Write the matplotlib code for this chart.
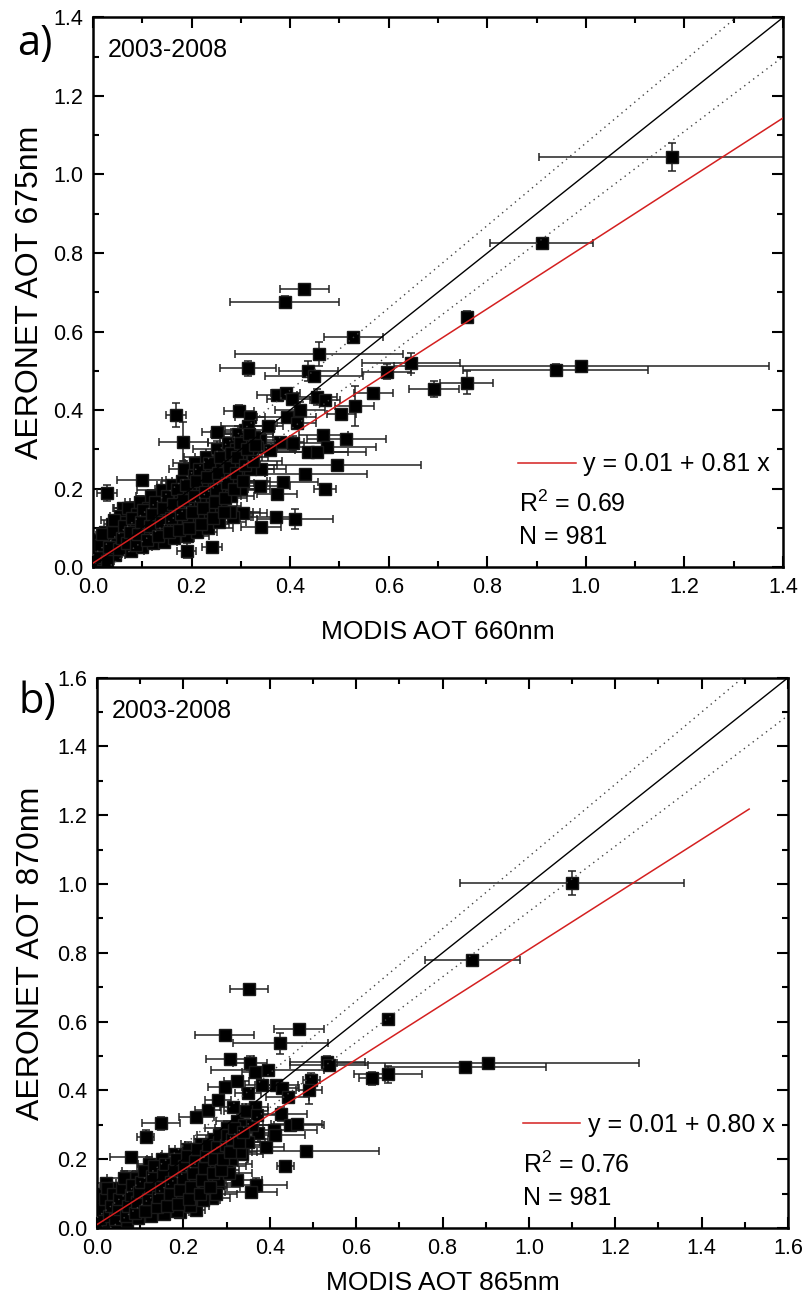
import matplotlib
matplotlib.use("Agg")
import matplotlib.pyplot as plt
from matplotlib.ticker import MultipleLocator, FormatStrFormatter

plt.rcParams['font.family'] = ['Liberation Sans', 'DejaVu Sans']
plt.rcParams['mathtext.fontset'] = 'custom'
plt.rcParams['mathtext.rm'] = 'Liberation Sans'
plt.rcParams['mathtext.it'] = 'Liberation Sans:italic'
plt.rcParams['mathtext.default'] = 'regular'

# ---------------- Panel a data (MODIS 660 vs AERONET 675) ----------------
xa = [1.175, 0.910, 0.429, 0.389, 0.528, 0.458, 0.314, 0.437, 0.448, 0.596,
      0.645, 0.758, 0.939, 0.991, 0.758, 0.692, 0.569, 0.531, 0.504, 0.514,
      0.496, 0.430, 0.386, 0.471, 0.373, 0.341, 0.339, 0.410, 0.371, 0.341,
      0.304, 0.285, 0.241, 0.190, 0.168, 0.183, 0.028, 0.099, 0.060, 0.251,
      0.296, 0.356, 0.373, 0.391, 0.404, 0.455, 0.471, 0.420, 0.393, 0.413,
      0.467, 0.474, 0.437, 0.454, 0.379, 0.406, 0.339, 0.359, 0.318, 0.308,
      0.332,
      0.005, 0.010, 0.012, 0.020, 0.022, 0.025, 0.030, 0.035, 0.038, 0.045,
      0.048, 0.050, 0.055, 0.060, 0.065, 0.068, 0.072, 0.078, 0.082, 0.085,
      0.090, 0.095, 0.100, 0.104, 0.108, 0.112, 0.118, 0.122, 0.126, 0.130,
      0.135, 0.140, 0.145, 0.148, 0.152, 0.156, 0.160, 0.165, 0.168, 0.172,
      0.176, 0.180, 0.185, 0.190, 0.193, 0.197, 0.200, 0.204, 0.208, 0.212,
      0.215, 0.218, 0.222, 0.226, 0.230, 0.234, 0.238, 0.241, 0.245, 0.249,
      0.252, 0.256, 0.260, 0.263, 0.267, 0.270, 0.274, 0.278, 0.281, 0.284,
      0.288, 0.291, 0.295, 0.300, 0.303, 0.306, 0.310, 0.314, 0.318, 0.322,
      0.326]
ya = [1.045, 0.825, 0.708, 0.676, 0.585, 0.543, 0.506, 0.500, 0.487, 0.498,
      0.519, 0.638, 0.502, 0.512, 0.470, 0.453, 0.443, 0.410, 0.390, 0.325,
      0.259, 0.236, 0.217, 0.198, 0.185, 0.249, 0.206, 0.122, 0.127, 0.103,
      0.137, 0.127, 0.052, 0.042, 0.387, 0.319, 0.188, 0.222, 0.151, 0.343,
      0.398, 0.360, 0.438, 0.444, 0.427, 0.434, 0.425, 0.400, 0.383, 0.366,
      0.336, 0.306, 0.294, 0.294, 0.319, 0.315, 0.324, 0.298, 0.383, 0.349,
      0.306,
      0.015, 0.040, 0.070, 0.020, 0.055, 0.090, 0.035, 0.075, 0.110, 0.030,
      0.060, 0.095, 0.130, 0.045, 0.080, 0.115, 0.150, 0.040, 0.070, 0.100,
      0.135, 0.165, 0.050, 0.085, 0.120, 0.150, 0.180, 0.060, 0.095, 0.130,
      0.160, 0.195, 0.065, 0.100, 0.140, 0.175, 0.210, 0.075, 0.110, 0.150,
      0.185, 0.220, 0.250, 0.080, 0.120, 0.160, 0.200, 0.235, 0.265, 0.090,
      0.130, 0.170, 0.210, 0.245, 0.280, 0.100, 0.140, 0.180, 0.220, 0.260,
      0.300, 0.115, 0.155, 0.195, 0.235, 0.275, 0.315, 0.140, 0.180, 0.220,
      0.260, 0.300, 0.340, 0.200, 0.240, 0.280, 0.320, 0.360, 0.250, 0.290,
      0.330]
xea = [0.270, 0.105, 0.050, 0.110, 0.060, 0.170, 0.057, 0.060, 0.100, 0.050,
       0.100, 0.010, 0.188, 0.380, 0.053, 0.050, 0.040, 0.040, 0.030, 0.080,
       0.170, 0.125, 0.070, 0.022, 0.040, 0.050, 0.060, 0.077, 0.050, 0.040,
       0.050, 0.040, 0.020, 0.020, 0.020, 0.050, 0.020, 0.050, 0.020, 0.030,
       0.030, 0.030, 0.040, 0.030, 0.050, 0.040, 0.030, 0.050, 0.060, 0.040,
       0.050, 0.100, 0.080, 0.100, 0.050, 0.060, 0.040, 0.050, 0.030, 0.040,
       0.030,
       0.010, 0.015, 0.020, 0.010, 0.025, 0.015, 0.020, 0.030, 0.015, 0.020,
       0.025, 0.030, 0.020, 0.015, 0.035, 0.020, 0.030, 0.025, 0.020, 0.040,
       0.025, 0.030, 0.020, 0.035, 0.025, 0.045, 0.030, 0.025, 0.040, 0.030,
       0.035, 0.050, 0.025, 0.030, 0.045, 0.035, 0.030, 0.040, 0.030, 0.050,
       0.035, 0.040, 0.030, 0.045, 0.035, 0.055, 0.040, 0.030, 0.045, 0.040,
       0.050, 0.035, 0.060, 0.040, 0.045, 0.050, 0.035, 0.060, 0.045, 0.040,
       0.050, 0.055, 0.040, 0.065, 0.045, 0.050, 0.040, 0.060, 0.045, 0.070,
       0.050, 0.040, 0.055, 0.060, 0.045, 0.050, 0.040, 0.055, 0.050, 0.045,
       0.040]
yea = [0.036, 0.012, 0.008, 0.015, 0.012, 0.030, 0.020, 0.025, 0.010, 0.020,
       0.025, 0.015, 0.015, 0.010, 0.030, 0.020, 0.010, 0.050, 0.010, 0.010,
       0.010, 0.010, 0.010, 0.010, 0.010, 0.010, 0.010, 0.026, 0.010, 0.010,
       0.010, 0.010, 0.010, 0.020, 0.030, 0.050, 0.020, 0.010, 0.010, 0.010,
       0.015, 0.010, 0.010, 0.010, 0.010, 0.020, 0.010, 0.020, 0.010, 0.010,
       0.010, 0.010, 0.010, 0.010, 0.010, 0.020, 0.010, 0.010, 0.010, 0.010,
       0.010,
       0.015, 0.010, 0.020, 0.012, 0.015, 0.010, 0.020, 0.012, 0.015, 0.010,
       0.015, 0.012, 0.020, 0.010, 0.015, 0.012, 0.010, 0.015, 0.020, 0.012,
       0.010, 0.015, 0.012, 0.010, 0.020, 0.012, 0.015, 0.010, 0.012, 0.020,
       0.010, 0.015, 0.012, 0.020, 0.010, 0.015, 0.012, 0.010, 0.020, 0.012,
       0.015, 0.010, 0.020, 0.012, 0.015, 0.010, 0.012, 0.020, 0.010, 0.015,
       0.012, 0.020, 0.010, 0.015, 0.012, 0.010, 0.020, 0.012, 0.015, 0.010,
       0.020, 0.012, 0.015, 0.010, 0.020, 0.012, 0.015, 0.010, 0.012, 0.020,
       0.015, 0.010, 0.020, 0.012, 0.015, 0.010, 0.020, 0.012, 0.015, 0.010,
       0.012]
# further points inside the dense cloud of panel a
xa2 = [0.008, 0.015, 0.018, 0.028, 0.032, 0.040, 0.042, 0.052, 0.058, 0.062,
       0.070, 0.075, 0.080, 0.088, 0.092, 0.098, 0.102, 0.110, 0.115, 0.120,
       0.125, 0.132, 0.138, 0.142, 0.150, 0.155, 0.158, 0.162, 0.170, 0.175,
       0.178, 0.182, 0.188, 0.195, 0.200, 0.205, 0.210, 0.216, 0.220, 0.224,
       0.228, 0.232, 0.236, 0.243, 0.247, 0.250, 0.254, 0.258, 0.265, 0.268,
       0.272, 0.276, 0.280, 0.286, 0.290, 0.293, 0.298, 0.305, 0.308, 0.312,
       0.316, 0.324, 0.328]
ya2 = [0.025, 0.055, 0.085, 0.015, 0.050, 0.090, 0.120, 0.045, 0.075, 0.105,
       0.060, 0.090, 0.125, 0.055, 0.085, 0.115, 0.145, 0.070, 0.105, 0.135,
       0.165, 0.080, 0.115, 0.150, 0.180, 0.090, 0.125, 0.160, 0.200, 0.095,
       0.135, 0.170, 0.210, 0.100, 0.140, 0.180, 0.220, 0.250, 0.110, 0.150,
       0.190, 0.230, 0.265, 0.125, 0.165, 0.200, 0.240, 0.280, 0.140, 0.175,
       0.215, 0.255, 0.290, 0.200, 0.240, 0.280, 0.315, 0.220, 0.260, 0.300,
       0.340, 0.270, 0.310]
xea2 = [0.015, 0.020, 0.025, 0.015, 0.030, 0.020, 0.025, 0.035, 0.020, 0.030,
        0.025, 0.040, 0.030, 0.020, 0.035, 0.030, 0.045, 0.025, 0.040, 0.030,
        0.050, 0.035, 0.030, 0.045, 0.035, 0.040, 0.050, 0.030, 0.045, 0.055,
        0.035, 0.040, 0.050, 0.045, 0.060, 0.035, 0.050, 0.040, 0.055, 0.045,
        0.060, 0.040, 0.050, 0.055, 0.045, 0.065, 0.040, 0.050, 0.060, 0.045,
        0.055, 0.070, 0.050, 0.045, 0.060, 0.050, 0.040, 0.055, 0.065, 0.045,
        0.050, 0.060, 0.045]
yea2 = [0.012, 0.015, 0.010, 0.020, 0.012, 0.015, 0.010, 0.020, 0.012, 0.015,
        0.010, 0.020, 0.012, 0.015, 0.010, 0.020, 0.012, 0.015, 0.010, 0.020,
        0.012, 0.015, 0.010, 0.020, 0.012, 0.015, 0.010, 0.020, 0.012, 0.015,
        0.010, 0.020, 0.012, 0.015, 0.010, 0.020, 0.012, 0.015, 0.010, 0.020,
        0.012, 0.015, 0.010, 0.020, 0.012, 0.015, 0.010, 0.020, 0.012, 0.015,
        0.010, 0.020, 0.012, 0.015, 0.010, 0.020, 0.012, 0.015, 0.010, 0.020,
        0.012, 0.015, 0.010]

# ---------------- Panel b data (MODIS 865 vs AERONET 870) ----------------
xb = [1.100, 0.869, 0.351, 0.296, 0.424, 0.467, 0.674, 0.308, 0.354, 0.365,
      0.395, 0.533, 0.537, 0.496, 0.491, 0.637, 0.674, 0.853, 0.905, 0.149,
      0.079, 0.113, 0.296, 0.323, 0.383, 0.415, 0.428, 0.442, 0.427, 0.446,
      0.462, 0.409, 0.411, 0.373, 0.392, 0.483, 0.436, 0.335, 0.323, 0.369,
      0.356, 0.281, 0.267, 0.300, 0.277, 0.230, 0.257, 0.281, 0.315, 0.350,
      0.365, 0.192, 0.230,
      0.005, 0.010, 0.012, 0.015, 0.020, 0.025, 0.030, 0.035, 0.040, 0.045,
      0.050, 0.055, 0.060, 0.065, 0.070, 0.075, 0.080, 0.085, 0.090, 0.095,
      0.100, 0.105, 0.110, 0.115, 0.120, 0.125, 0.130, 0.135, 0.140, 0.145,
      0.150, 0.155, 0.160, 0.165, 0.170, 0.175, 0.180, 0.185, 0.190, 0.195,
      0.200, 0.205, 0.210, 0.215, 0.220, 0.225, 0.230, 0.235, 0.240, 0.245,
      0.250, 0.255, 0.260, 0.265, 0.270, 0.275, 0.280, 0.285, 0.290, 0.295,
      0.300, 0.305, 0.310, 0.315, 0.320, 0.325, 0.330, 0.335, 0.340, 0.345,
      0.350, 0.360, 0.370]
yb = [1.003, 0.779, 0.694, 0.560, 0.537, 0.580, 0.607, 0.492, 0.479, 0.455,
      0.459, 0.484, 0.474, 0.430, 0.401, 0.435, 0.447, 0.469, 0.479, 0.304,
      0.207, 0.266, 0.411, 0.426, 0.416, 0.416, 0.406, 0.382, 0.331, 0.299,
      0.302, 0.285, 0.270, 0.275, 0.236, 0.225, 0.180, 0.215, 0.141, 0.125,
      0.104, 0.132, 0.086, 0.186, 0.190, 0.324, 0.343, 0.372, 0.353, 0.392,
      0.353, 0.047, 0.052,
      0.010, 0.040, 0.070, 0.100, 0.130, 0.020, 0.050, 0.085, 0.115, 0.010,
      0.040, 0.070, 0.100, 0.130, 0.020, 0.050, 0.080, 0.110, 0.145, 0.030,
      0.060, 0.090, 0.120, 0.155, 0.185, 0.035, 0.070, 0.100, 0.135, 0.170,
      0.200, 0.040, 0.080, 0.115, 0.150, 0.185, 0.215, 0.050, 0.090, 0.125,
      0.160, 0.195, 0.230, 0.065, 0.100, 0.140, 0.175, 0.210, 0.245, 0.080,
      0.120, 0.155, 0.190, 0.225, 0.260, 0.100, 0.140, 0.180, 0.215, 0.250,
      0.290, 0.160, 0.200, 0.240, 0.275, 0.310, 0.220, 0.260, 0.300, 0.340,
      0.250, 0.300, 0.330]
xeb = [0.260, 0.110, 0.044, 0.068, 0.110, 0.058, 0.010, 0.055, 0.040, 0.030,
       0.130, 0.087, 0.090, 0.020, 0.030, 0.030, 0.078, 0.187, 0.350, 0.044,
       0.048, 0.020, 0.040, 0.030, 0.040, 0.050, 0.040, 0.050, 0.060, 0.080,
       0.060, 0.100, 0.070, 0.050, 0.040, 0.170, 0.020, 0.050, 0.060, 0.070,
       0.060, 0.050, 0.040, 0.060, 0.050, 0.040, 0.030, 0.030, 0.030, 0.030,
       0.030, 0.020, 0.020,
       0.010, 0.015, 0.020, 0.010, 0.025, 0.015, 0.020, 0.030, 0.015, 0.020,
       0.025, 0.030, 0.020, 0.015, 0.035, 0.020, 0.030, 0.025, 0.020, 0.040,
       0.025, 0.030, 0.020, 0.035, 0.025, 0.045, 0.030, 0.025, 0.040, 0.030,
       0.035, 0.050, 0.025, 0.030, 0.045, 0.035, 0.030, 0.040, 0.030, 0.050,
       0.035, 0.040, 0.030, 0.045, 0.035, 0.055, 0.040, 0.030, 0.045, 0.040,
       0.050, 0.035, 0.060, 0.040, 0.045, 0.050, 0.035, 0.060, 0.045, 0.040,
       0.050, 0.055, 0.040, 0.065, 0.045, 0.050, 0.040, 0.060, 0.045, 0.050,
       0.040, 0.050, 0.045]
yeb = [0.035, 0.015, 0.010, 0.015, 0.030, 0.010, 0.012, 0.015, 0.020, 0.010,
       0.010, 0.015, 0.010, 0.020, 0.040, 0.020, 0.025, 0.010, 0.010, 0.020,
       0.010, 0.020, 0.010, 0.010, 0.010, 0.010, 0.010, 0.010, 0.020, 0.010,
       0.010, 0.010, 0.010, 0.010, 0.010, 0.010, 0.010, 0.010, 0.010, 0.020,
       0.010, 0.010, 0.010, 0.010, 0.010, 0.010, 0.010, 0.010, 0.010, 0.010,
       0.010, 0.010, 0.010,
       0.015, 0.010, 0.020, 0.012, 0.015, 0.010, 0.020, 0.012, 0.015, 0.010,
       0.015, 0.012, 0.020, 0.010, 0.015, 0.012, 0.010, 0.015, 0.020, 0.012,
       0.010, 0.015, 0.012, 0.010, 0.020, 0.012, 0.015, 0.010, 0.012, 0.020,
       0.010, 0.015, 0.012, 0.020, 0.010, 0.015, 0.012, 0.010, 0.020, 0.012,
       0.015, 0.010, 0.020, 0.012, 0.015, 0.010, 0.012, 0.020, 0.010, 0.015,
       0.012, 0.020, 0.010, 0.015, 0.012, 0.010, 0.020, 0.012, 0.015, 0.010,
       0.020, 0.012, 0.015, 0.010, 0.020, 0.012, 0.015, 0.010, 0.012, 0.020,
       0.015, 0.010, 0.020]
# further points inside the dense cloud of panel b
xb2 = [0.008, 0.014, 0.018, 0.022, 0.028, 0.033, 0.038, 0.042, 0.048, 0.052,
       0.058, 0.062, 0.068, 0.072, 0.078, 0.082, 0.088, 0.092, 0.098, 0.102,
       0.108, 0.112, 0.118, 0.122, 0.128, 0.132, 0.138, 0.142, 0.148, 0.152,
       0.158, 0.162, 0.168, 0.172, 0.178, 0.182, 0.188, 0.192, 0.198, 0.202,
       0.208, 0.212, 0.218, 0.222, 0.228, 0.232, 0.238, 0.242, 0.248, 0.252,
       0.258, 0.262, 0.268, 0.272, 0.278, 0.282, 0.288, 0.292, 0.298, 0.302,
       0.308, 0.312, 0.318, 0.328, 0.338]
yb2 = [0.025, 0.055, 0.085, 0.115, 0.035, 0.065, 0.100, 0.025, 0.055, 0.085,
       0.115, 0.145, 0.035, 0.065, 0.095, 0.125, 0.045, 0.075, 0.105, 0.135,
       0.165, 0.050, 0.085, 0.115, 0.150, 0.180, 0.060, 0.090, 0.120, 0.155,
       0.185, 0.065, 0.100, 0.135, 0.170, 0.200, 0.070, 0.110, 0.145, 0.180,
       0.210, 0.085, 0.120, 0.160, 0.195, 0.230, 0.100, 0.140, 0.175, 0.210,
       0.240, 0.120, 0.160, 0.200, 0.235, 0.270, 0.170, 0.200, 0.240, 0.270,
       0.220, 0.260, 0.290, 0.250, 0.280]
xeb2 = [0.015, 0.020, 0.025, 0.015, 0.030, 0.020, 0.025, 0.035, 0.020, 0.030,
        0.025, 0.040, 0.030, 0.020, 0.035, 0.030, 0.045, 0.025, 0.040, 0.030,
        0.050, 0.035, 0.030, 0.045, 0.035, 0.040, 0.050, 0.030, 0.045, 0.055,
        0.035, 0.040, 0.050, 0.045, 0.060, 0.035, 0.050, 0.040, 0.055, 0.045,
        0.060, 0.040, 0.050, 0.055, 0.045, 0.065, 0.040, 0.050, 0.060, 0.045,
        0.055, 0.070, 0.050, 0.045, 0.060, 0.050, 0.040, 0.055, 0.065, 0.045,
        0.050, 0.060, 0.045, 0.050, 0.040]
yeb2 = [0.012, 0.015, 0.010, 0.020, 0.012, 0.015, 0.010, 0.020, 0.012, 0.015,
        0.010, 0.020, 0.012, 0.015, 0.010, 0.020, 0.012, 0.015, 0.010, 0.020,
        0.012, 0.015, 0.010, 0.020, 0.012, 0.015, 0.010, 0.020, 0.012, 0.015,
        0.010, 0.020, 0.012, 0.015, 0.010, 0.020, 0.012, 0.015, 0.010, 0.020,
        0.012, 0.015, 0.010, 0.020, 0.012, 0.015, 0.010, 0.020, 0.012, 0.015,
        0.010, 0.020, 0.012, 0.015, 0.010, 0.020, 0.012, 0.015, 0.010, 0.020,
        0.012, 0.015, 0.010, 0.020, 0.012]

# ---------------- fit / annotation values ----------------
panel_tags = ['a)', 'b)']
periods = ['2003-2008', '2003-2008']
xlabels = ['MODIS AOT 660nm', 'MODIS AOT 865nm']
ylabels = ['AERONET AOT 675nm', 'AERONET AOT 870nm']
axis_max = [1.4, 1.6]
fit_intercept = [0.01, 0.01]
fit_slope = [0.81, 0.80]
fit_xmax = [1.4, 1.51]
r2 = ['0.69', '0.76']
n_points = [981, 981]
env_abs = 0.03   # expected error envelope: +/-(0.03 + 0.05*tau)
env_rel = 0.05

fig = plt.figure(figsize=(8.05, 13.05), dpi=100)
ax_a = fig.add_axes([0.1155, 0.5655, 0.8572, 0.4211])
ax_b = fig.add_axes([0.1205, 0.0590, 0.8584, 0.4217])

datasets = [(xa + xa2, ya + ya2, xea + xea2, yea + yea2),
            (xb + xb2, yb + yb2, xeb + xeb2, yeb + yeb2)]
axes = [ax_a, ax_b]
tag_pos = [(0.0435, 0.9663), (0.046, 0.462)]
ylab_x = [-0.091, -0.096]
xlab_y = [-0.118, -0.100]

for i, ax in enumerate(axes):
    x, y, xe, ye = datasets[i]
    m = axis_max[i]
    ax.errorbar(x, y, xerr=xe, yerr=ye, fmt='s', ms=8.6, mfc='black',
                mec='#1a1a1a', ecolor='#222222', elinewidth=1.1, capsize=3.2,
                capthick=1.1, zorder=2)
    # 1:1 line and envelopes
    ax.plot([0, m], [0, m], color='black', lw=1.0, zorder=4)
    ax.plot([0, m], [env_abs, m * (1 + env_rel) + env_abs], color='#444444',
            lw=1.0, ls=(0, (1, 3)), zorder=4)
    ax.plot([0, m], [-env_abs, m * (1 - env_rel) - env_abs], color='#444444',
            lw=1.0, ls=(0, (1, 3)), zorder=4)
    # regression line
    fx = [0, fit_xmax[i]]
    fy = [fit_intercept[i] + fit_slope[i] * v for v in fx]
    ax.plot(fx, fy, color='#d42020', lw=1.1, zorder=5,
            label='y = %.2f + %.2f x' % (fit_intercept[i], fit_slope[i]))

    ax.set_xlim(0, m)
    ax.set_ylim(0, m)
    ax.xaxis.set_major_locator(MultipleLocator(0.2))
    ax.xaxis.set_minor_locator(MultipleLocator(0.1))
    ax.yaxis.set_major_locator(MultipleLocator(0.2))
    ax.yaxis.set_minor_locator(MultipleLocator(0.1))
    ax.xaxis.set_major_formatter(FormatStrFormatter('%.1f'))
    ax.yaxis.set_major_formatter(FormatStrFormatter('%.1f'))
    ax.tick_params(which='both', direction='in', top=True, right=True,
                   width=1.5)
    ax.tick_params(which='major', length=8, pad=7, labelsize=15.5)
    ax.tick_params(which='minor', length=4.5)
    for s in ax.spines.values():
        s.set_linewidth(1.8)

    ax.set_xlabel(xlabels[i], fontsize=19, va='center')
    ax.set_ylabel(ylabels[i], fontsize=23, va='center')
    ax.xaxis.set_label_coords(0.5, xlab_y[i])
    ax.yaxis.set_label_coords(ylab_x[i], 0.5)

    ax.text(0.021, 0.94, periods[i], transform=ax.transAxes, fontsize=18,
            va='center', ha='left')

    ax.legend(loc='center left', bbox_to_anchor=(0.616, 0.187),
              frameon=False, fontsize=18, handlelength=2.3,
              handletextpad=0.3, borderpad=0, borderaxespad=0)
    ax.text(0.617, 0.115, 'R$^2$ = ' + r2[i], transform=ax.transAxes,
            fontsize=18, va='center', ha='left')
    ax.text(0.617, 0.055, 'N = %d' % n_points[i], transform=ax.transAxes,
            fontsize=18, va='center', ha='left')

    fig.text(tag_pos[i][0], tag_pos[i][1], panel_tags[i], fontsize=30,
             family=['Open Sans', 'DejaVu Sans'], ha='center', va='center')

fig.savefig('out.png', dpi=100)
